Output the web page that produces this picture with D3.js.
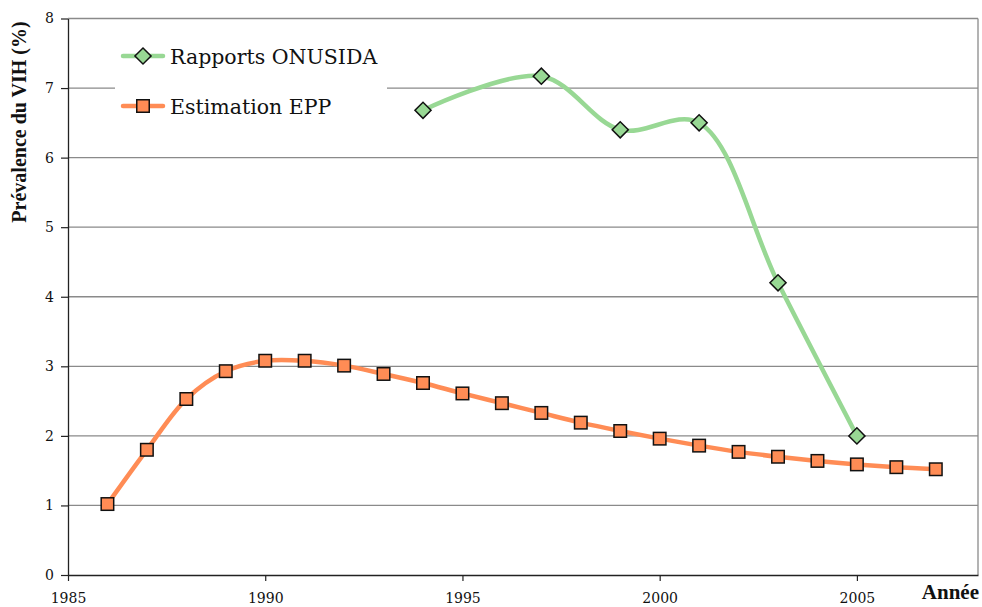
<!DOCTYPE html>
<html>
<head>
<meta charset="utf-8">
<script src="https://cdn.jsdelivr.net/npm/d3@7"></script>
<style>
  html, body { margin: 0; padding: 0; background: #fff; }
  svg { display: block; }
</style>
</head>
<body>
<svg id="chart" width="982" height="607"></svg>
<script>
// Prévalence du VIH : rapports ONUSIDA vs estimation EPP
const onusidaYears  = [1994, 1997, 1999, 2001, 2003, 2005];
const onusidaValues = [6.68, 7.17, 6.40, 6.50, 4.20, 2.00];

const eppYears  = [1986, 1987, 1988, 1989, 1990, 1991, 1992, 1993, 1994, 1995, 1996,
                   1997, 1998, 1999, 2000, 2001, 2002, 2003, 2004, 2005, 2006, 2007];
const eppValues = [1.02, 1.80, 2.53, 2.93, 3.08, 3.08, 3.01, 2.89, 2.76, 2.61, 2.47,
                   2.33, 2.19, 2.07, 1.96, 1.86, 1.77, 1.70, 1.64, 1.59, 1.55, 1.52];

const xTicks = [1985, 1990, 1995, 2000, 2005];
const yTicks = [0, 1, 2, 3, 4, 5, 6, 7, 8];

const seriesNames = ["Rapports ONUSIDA", "Estimation EPP"];
const green = "#98d894", orange = "#ff8c55";

const svg = d3.select("#chart");
const plotLeft = 68, plotRight = 978, plotTop = 18.5, plotBottom = 575;

const x = d3.scaleLinear().domain([1985, 2008.07]).range([plotLeft, plotRight]);
const y = d3.scaleLinear().domain([0, 8]).range([plotBottom, plotTop]);

const serif = "'DejaVu Serif', 'Liberation Serif', serif";
const boldSerif = "'Liberation Serif', 'DejaVu Serif', serif";

// gridlines
svg.append("g")
  .selectAll("line")
  .data(yTicks.filter(d => d > 0))
  .join("line")
  .attr("x1", plotLeft).attr("x2", plotRight)
  .attr("y1", d => y(d)).attr("y2", d => y(d))
  .attr("stroke", "#8a8a8a").attr("stroke-width", 1.3);

// right border
svg.append("line")
  .attr("x1", plotRight).attr("x2", plotRight)
  .attr("y1", plotTop).attr("y2", plotBottom)
  .attr("stroke", "#8a8a8a").attr("stroke-width", 1.3);

// axes
const xAxis = svg.append("g")
  .attr("transform", `translate(0,${plotBottom})`)
  .call(d3.axisBottom(x).tickValues(xTicks).tickSize(6).tickSizeOuter(0).tickFormat(d3.format("d")));
xAxis.select(".domain").attr("stroke", "#222").attr("stroke-width", 1.3);
xAxis.selectAll(".tick line").attr("stroke", "#222").attr("stroke-width", 1.2);
xAxis.selectAll(".tick text")
  .attr("font-family", serif).attr("font-size", 14).attr("fill", "#111")
  .attr("dy", "1.35em");

const yAxis = svg.append("g")
  .attr("transform", `translate(${plotLeft},0)`)
  .call(d3.axisLeft(y).tickValues(yTicks).tickSize(7).tickSizeOuter(0).tickFormat(d3.format("d")));
yAxis.select(".domain").attr("stroke", "#222").attr("stroke-width", 1.3);
yAxis.selectAll(".tick text")
  .attr("font-family", serif).attr("font-size", 14).attr("fill", "#111")
  .attr("x", -14);
yAxis.selectAll(".tick line").attr("stroke", "#222").attr("stroke-width", 1.2);

// axis titles
svg.append("text")
  .attr("transform", "translate(26,122) rotate(-90)")
  .attr("text-anchor", "middle")
  .attr("font-family", boldSerif).attr("font-weight", "bold").attr("font-size", 20)
  .attr("fill", "#111")
  .text("Prévalence du VIH (%)");

svg.append("text")
  .attr("x", 979).attr("y", 599)
  .attr("text-anchor", "end")
  .attr("font-family", boldSerif).attr("font-weight", "bold").attr("font-size", 21)
  .attr("fill", "#111")
  .text("Année");

// series
const line = d3.line()
  .x(d => x(d[0])).y(d => y(d[1]))
  .curve(d3.curveCatmullRom.alpha(0.5));

const eppData = d3.zip(eppYears, eppValues);
const onuData = d3.zip(onusidaYears, onusidaValues);

svg.append("path").datum(eppData)
  .attr("d", line).attr("fill", "none")
  .attr("stroke", orange).attr("stroke-width", 4.5).attr("stroke-linejoin", "round");

svg.append("path").datum(onuData)
  .attr("d", line).attr("fill", "none")
  .attr("stroke", green).attr("stroke-width", 4.5).attr("stroke-linejoin", "round");

const sq = 12.5;
svg.append("g").selectAll("rect")
  .data(eppData).join("rect")
  .attr("x", d => x(d[0]) - sq / 2).attr("y", d => y(d[1]) - sq / 2)
  .attr("width", sq).attr("height", sq)
  .attr("fill", orange).attr("stroke", "#111").attr("stroke-width", 1.5);

const diamond = d3.symbol().type(d3.symbolSquare).size(130);
svg.append("g").selectAll("path")
  .data(onuData).join("path")
  .attr("d", diamond)
  .attr("transform", d => `translate(${x(d[0])},${y(d[1])}) rotate(45)`)
  .attr("fill", green).attr("stroke", "#111").attr("stroke-width", 1.5);

// legend
const legend = svg.append("g");
legend.append("rect")
  .attr("x", 115).attr("y", 34).attr("width", 272).attr("height", 92)
  .attr("fill", "#fff");

const entries = [
  { name: seriesNames[0], color: green, y: 56, shape: "diamond" },
  { name: seriesNames[1], color: orange, y: 106, shape: "square" }
];
entries.forEach(e => {
  legend.append("line")
    .attr("x1", 123).attr("x2", 163).attr("y1", e.y).attr("y2", e.y)
    .attr("stroke", e.color).attr("stroke-width", 4.5).attr("stroke-linecap", "round");
  if (e.shape === "diamond") {
    legend.append("path").attr("d", diamond)
      .attr("transform", `translate(143,${e.y}) rotate(45)`)
      .attr("fill", e.color).attr("stroke", "#111").attr("stroke-width", 1.5);
  } else {
    legend.append("rect")
      .attr("x", 143 - sq / 2).attr("y", e.y - sq / 2).attr("width", sq).attr("height", sq)
      .attr("fill", e.color).attr("stroke", "#111").attr("stroke-width", 1.5);
  }
  legend.append("text")
    .attr("x", 170).attr("y", e.y + 8)
    .attr("font-family", serif).attr("font-size", 20.5).attr("fill", "#111")
    .text(e.name);
});
</script>
</body>
</html>
